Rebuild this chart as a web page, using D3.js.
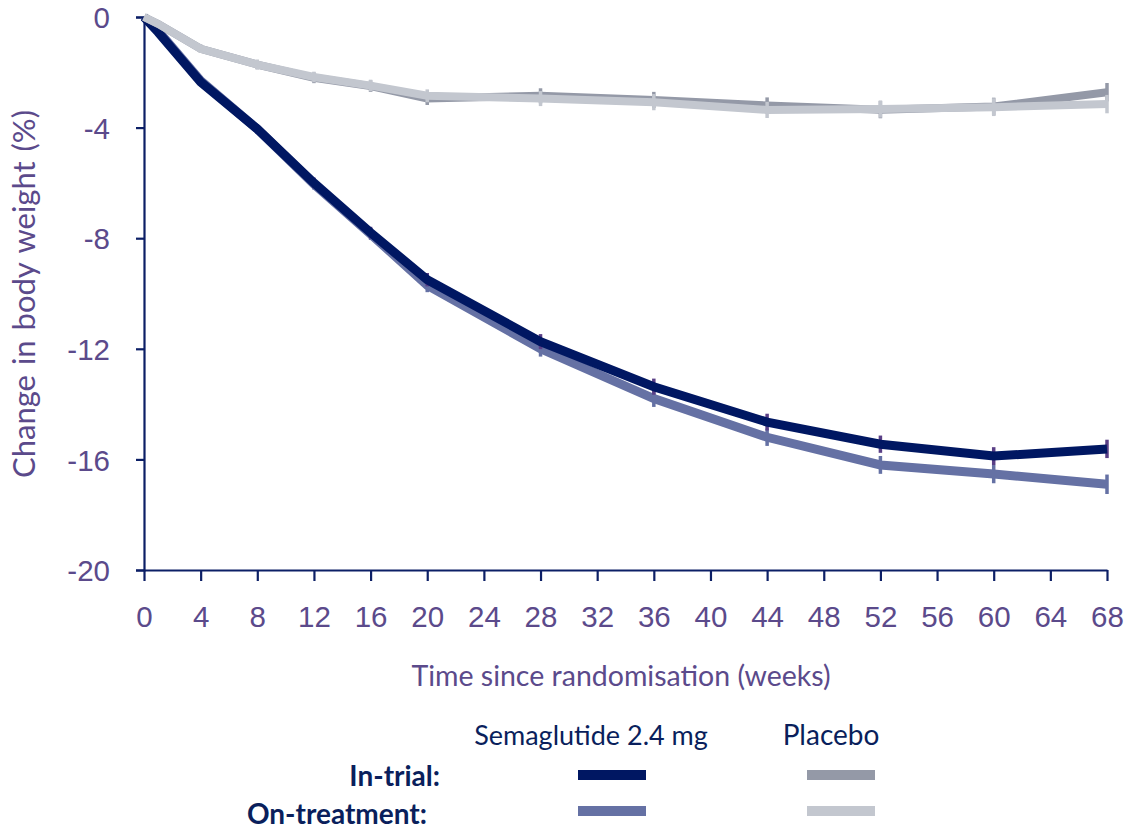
<!DOCTYPE html>
<html lang="en">
<head>
<meta charset="UTF-8">
<title>Change in body weight</title>
<style>
  body { margin: 0; background: #fff; }
  svg { display: block; font-family: Lato, "Open Sans", sans-serif; }
</style>
</head>
<body>
<svg id="chart" width="1127" height="829"></svg>
<script src="https://cdnjs.cloudflare.com/ajax/libs/d3/7.8.5/d3.min.js"></script>
<script>
// weeks with observations
const weeks = [0, 1, 4, 8, 12, 16, 20, 28, 36, 44, 52, 60, 68];

// mean change in body weight (%)
const semaInTrial   = [0, -0.55, -2.35, -4.05, -6.0, -7.8, -9.5, -11.74, -13.37, -14.65, -15.45, -15.88, -15.62];
const semaOnTreat   = [0, -0.5, -2.3, -4.05, -6.05, -7.85, -9.7, -12.0, -13.8, -15.2, -16.2, -16.53, -16.9];
const placInTrial   = [0, -0.25, -1.15, -1.72, -2.2, -2.5, -2.95, -2.85, -3.0, -3.2, -3.35, -3.24, -2.72];
const placOnTreat   = [0, -0.25, -1.15, -1.72, -2.17, -2.48, -2.85, -2.95, -3.08, -3.36, -3.33, -3.26, -3.15];

// half length of the error bars (%)
const semaInTrialErr = [0, 0.05, 0.08, 0.1, 0.12, 0.14, 0.17, 0.2, 0.22, 0.23, 0.24, 0.25, 0.26];
const semaOnTreatErr = [0, 0.05, 0.08, 0.1, 0.12, 0.14, 0.18, 0.21, 0.23, 0.24, 0.25, 0.26, 0.28];
const placInTrialErr = [0, 0.05, 0.08, 0.1, 0.12, 0.14, 0.16, 0.2, 0.22, 0.22, 0.24, 0.25, 0.26];
const placOnTreatErr = [0, 0.05, 0.08, 0.1, 0.12, 0.14, 0.16, 0.2, 0.22, 0.22, 0.24, 0.25, 0.26];

const xTicks = d3.range(0, 69, 4);
const yTicks = [0, -4, -8, -12, -16, -20];

const series = [
  { name: "Semaglutide 2.4 mg, on-treatment", values: semaOnTreat, err: semaOnTreatErr, color: "#6571a4", errColor: "#6571a4", width: 9 },
  { name: "Semaglutide 2.4 mg, in-trial", values: semaInTrial, err: semaInTrialErr, color: "#001762", errColor: "#5a3f86", width: 9 },
  { name: "Placebo, in-trial", values: placInTrial, err: placInTrialErr, color: "#9499a7", errColor: "#9499a7", width: 8 },
  { name: "Placebo, on-treatment", values: placOnTreat, err: placOnTreatErr, color: "#c3c7cf", errColor: "#c3c7cf", width: 8 }
];

const axisColor = "#0c1f66";
const labelColor = "#5b4a8b";
const legendColor = "#0a1f5c";

const svg = d3.select("#chart");

const x = d3.scaleLinear().domain([0, 68]).range([144, 1107]);
const y = d3.scaleLinear().domain([-20, 0]).range([570, 17]);

// y axis
const yAxis = svg.append("g")
  .attr("transform", `translate(${x(0)},0)`)
  .call(d3.axisLeft(y).tickValues(yTicks).tickSize(8).tickPadding(26).tickFormat(d => String(d)));
yAxis.select(".domain").attr("stroke", axisColor).attr("stroke-width", 2.2);
yAxis.selectAll(".tick line").attr("stroke", axisColor).attr("stroke-width", 2.2);
yAxis.selectAll(".tick text")
  .attr("fill", labelColor)
  .style("font-size", "29.5px")
  .attr("dy", "0.36em");

// x axis
const xAxis = svg.append("g")
  .attr("transform", `translate(0,${y(-20)})`)
  .call(d3.axisBottom(x).tickValues(xTicks).tickSize(11).tickSizeOuter(0).tickPadding(25));
xAxis.select(".domain").attr("stroke", axisColor).attr("stroke-width", 2.2);
xAxis.selectAll(".tick line").attr("stroke", axisColor).attr("stroke-width", 2.2);
xAxis.selectAll(".tick text")
  .attr("fill", labelColor)
  .style("font-size", "29.5px");

// axis titles
svg.append("text")
  .attr("x", 621).attr("y", 686)
  .attr("text-anchor", "middle")
  .attr("fill", labelColor)
  .style("font-size", "28.5px")
  .text("Time since randomisation (weeks)");

svg.append("text")
  .attr("transform", "translate(35,294) rotate(-90)")
  .attr("text-anchor", "middle")
  .attr("fill", labelColor)
  .style("font-size", "31px")
  .style("word-spacing", "2px")
  .text("Change in body weight (%)");

// lines (error bars first so the line covers their middle)
const line = d3.line()
  .x((d, i) => x(weeks[i]))
  .y(d => y(d));

series.forEach(s => {
  const g = svg.append("g");
  g.selectAll("line.err")
    .data(s.values.map((v, i) => ({ w: weeks[i], v, e: s.err[i] })).filter(d => d.w >= 4))
    .join("line")
    .attr("class", "err")
    .attr("x1", d => x(d.w)).attr("x2", d => x(d.w))
    .attr("y1", d => y(d.v - d.e) + 2).attr("y2", d => y(d.v + d.e) - 2)
    .attr("stroke", s.errColor)
    .attr("stroke-width", 3.5);

  g.append("path")
    .datum(s.values)
    .attr("fill", "none")
    .attr("stroke", s.color)
    .attr("stroke-width", s.width)
    .attr("stroke-linejoin", "miter")
    .attr("d", line);
});

// legend
const legend = svg.append("g");
legend.append("text")
  .attr("x", 591).attr("y", 745)
  .attr("text-anchor", "middle")
  .attr("fill", legendColor)
  .style("font-size", "27px")
  .text("Semaglutide 2.4 mg");
legend.append("text")
  .attr("x", 831).attr("y", 745)
  .attr("text-anchor", "middle")
  .attr("fill", legendColor)
  .style("font-size", "28px")
  .text("Placebo");

legend.append("text")
  .attr("x", 440).attr("y", 786)
  .attr("text-anchor", "end")
  .attr("fill", legendColor)
  .style("font-size", "28px")
  .style("font-weight", "bold")
  .text("In-trial:");
legend.append("text")
  .attr("x", 427).attr("y", 824)
  .attr("text-anchor", "end")
  .attr("fill", legendColor)
  .style("font-size", "28px")
  .style("font-weight", "bold")
  .text("On-treatment:");

const legendRows = [
  { x0: 578, yy: 775, color: series[1].color },
  { x0: 807, yy: 775, color: series[2].color },
  { x0: 578, yy: 811, color: series[0].color },
  { x0: 807, yy: 811, color: series[3].color }
];
legend.selectAll("line.key")
  .data(legendRows)
  .join("line")
  .attr("class", "key")
  .attr("x1", d => d.x0).attr("x2", d => d.x0 + 68)
  .attr("y1", d => d.yy).attr("y2", d => d.yy)
  .attr("stroke", d => d.color)
  .attr("stroke-width", 10);
</script>
</body>
</html>
